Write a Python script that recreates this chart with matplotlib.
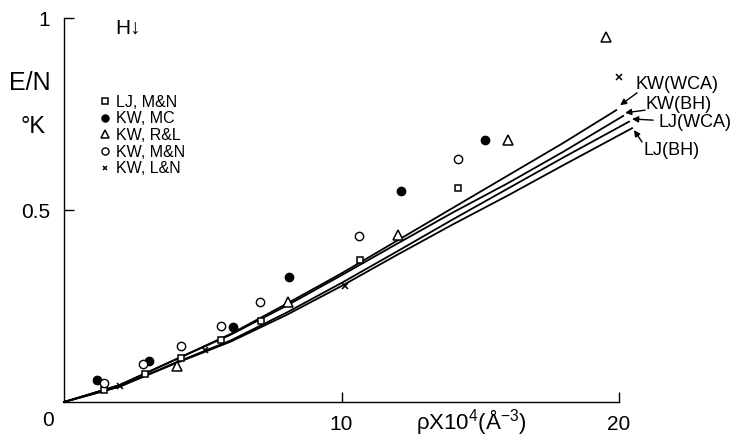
import matplotlib.pyplot as plt

plt.rcParams['font.family'] = ['Liberation Sans', 'DejaVu Sans']
plt.rcParams['mathtext.default'] = 'regular'

# // simulation points //
lj_mn_x = [1.44, 2.92, 4.22, 5.66, 7.10, 10.67, 14.20]
lj_mn_y = [0.031, 0.073, 0.115, 0.161, 0.211, 0.370, 0.557]

kw_mc_x = [1.19, 3.06, 6.09, 8.11, 12.14, 15.17]
kw_mc_y = [0.057, 0.107, 0.195, 0.326, 0.549, 0.682]

kw_rl_x = [4.07, 8.07, 12.04, 16.0, 19.53]
kw_rl_y = [0.094, 0.260, 0.435, 0.682, 0.951]

kw_mn_x = [1.44, 2.85, 4.22, 5.66, 7.06, 10.63, 14.20]
kw_mn_y = [0.049, 0.099, 0.146, 0.198, 0.260, 0.432, 0.633]

kw_ln_x = [2.02, 5.08, 10.13, 20.0]
kw_ln_y = [0.042, 0.135, 0.302, 0.846]

# // theory curves //
kw_wca_x = [0, 2, 4, 6, 8, 10, 12, 14, 16, 18, 19.9]
kw_wca_y = [0, 0.044, 0.110, 0.177, 0.255, 0.335, 0.420, 0.505, 0.590, 0.675, 0.760]

kw_bh_x = [0, 2, 4, 6, 8, 10, 12, 14, 16, 18, 20.15]
kw_bh_y = [0, 0.044, 0.110, 0.175, 0.250, 0.330, 0.412, 0.493, 0.570, 0.652, 0.745]

lj_wca_x = [0, 2, 4, 6, 8, 10, 12, 14, 16, 18, 20.36]
lj_wca_y = [0, 0.040, 0.102, 0.160, 0.232, 0.310, 0.392, 0.475, 0.556, 0.637, 0.730]

lj_bh_x = [0, 2, 4, 6, 8, 10, 12, 14, 16, 18, 20.47]
lj_bh_y = [0, 0.040, 0.100, 0.157, 0.226, 0.302, 0.383, 0.462, 0.538, 0.617, 0.713]

curve_names = ['KW(WCA)', 'KW(BH)', 'LJ(WCA)', 'LJ(BH)']
arrow_tips = [(20.04, 0.773), (20.22, 0.753), (20.47, 0.737), (20.54, 0.708)]
arrow_tails = [(20.65, 0.805), (20.94, 0.760), (21.23, 0.734), (20.83, 0.677)]
label_pos = [(22.09, 0.826), (22.16, 0.776), (22.74, 0.729), (21.91, 0.656)]

fig = plt.figure(figsize=(7.36, 4.36), dpi=100)
ax = fig.add_axes([64 / 736, 34 / 436, 555 / 736, 384 / 436])

for cx, cy in [(kw_wca_x, kw_wca_y), (kw_bh_x, kw_bh_y),
               (lj_wca_x, lj_wca_y), (lj_bh_x, lj_bh_y)]:
    ax.plot(cx, cy, color='black', lw=1.3, clip_on=False, zorder=2)

ax.plot(lj_mn_x, lj_mn_y, ls='none', marker='s', ms=5, mfc='white', mec='black',
        mew=1.1, label='LJ, M&N', zorder=3)
ax.plot(kw_mc_x, kw_mc_y, ls='none', marker='o', ms=6, mfc='black', mec='black',
        label='KW, MC', zorder=3)
ax.plot(kw_rl_x, kw_rl_y, ls='none', marker='^', ms=7, mfc='white', mec='black',
        mew=1.1, label='KW, R&L', zorder=3)
ax.plot(kw_mn_x, kw_mn_y, ls='none', marker='o', ms=6, mfc='white', mec='black',
        mew=1.0, label='KW, M&N', zorder=3)
ax.plot(kw_ln_x, kw_ln_y, ls='none', marker='x', ms=4, color='black',
        mew=1.1, label='KW, L&N', zorder=3, clip_on=False)

# arrows pointing at the curve ends
for name, tip, tail, pos in zip(curve_names, arrow_tips, arrow_tails, label_pos):
    ax.annotate('', xy=tip, xytext=tail, annotation_clip=False,
                arrowprops=dict(arrowstyle='-|>', color='black', lw=1.0,
                                mutation_scale=9, shrinkA=0, shrinkB=0))
    ax.text(pos[0], pos[1], name, fontsize=13, ha='center', va='center',
            clip_on=False)

ax.set_xlim(0, 20)
ax.set_ylim(0, 1)
ax.spines['top'].set_visible(False)
ax.spines['right'].set_visible(False)
for s in ['left', 'bottom']:
    ax.spines[s].set_linewidth(1.0)

ax.set_xticks([10, 20])
ax.set_xticklabels(['10', '20'])
ax.set_yticks([0.5, 1])
ax.set_yticklabels(['0.5', '1'])
ax.tick_params(axis='both', direction='in', length=7, width=1.0, labelsize=15)
ax.tick_params(axis='x', pad=9)
ax.tick_params(axis='y', pad=10)

ax.text(-0.58, -0.047, '0', fontsize=15, ha='center', va='center', clip_on=False)
ax.text(14.67, -0.052, r'$\rho$X10$^4$(Å$^{-3}$)', fontsize=16, ha='center',
        va='center', clip_on=False)
ax.text(-1.23, 0.831, 'E/N', fontsize=18, ha='center', va='center', clip_on=False)
ax.text(-1.12, 0.716, '°K', fontsize=17, ha='center', va='center', clip_on=False)
ax.text(2.31, 0.974, 'H↓', fontsize=15, ha='center', va='center', clip_on=False)

ax.legend(loc='upper left', bbox_to_anchor=(0.065, 0.80), frameon=False,
          fontsize=11.5, handlelength=0.6, handletextpad=0.4, labelspacing=0.1,
          borderpad=0, borderaxespad=0, numpoints=1, markerscale=0.85)

fig.savefig('out.png', dpi=100)
